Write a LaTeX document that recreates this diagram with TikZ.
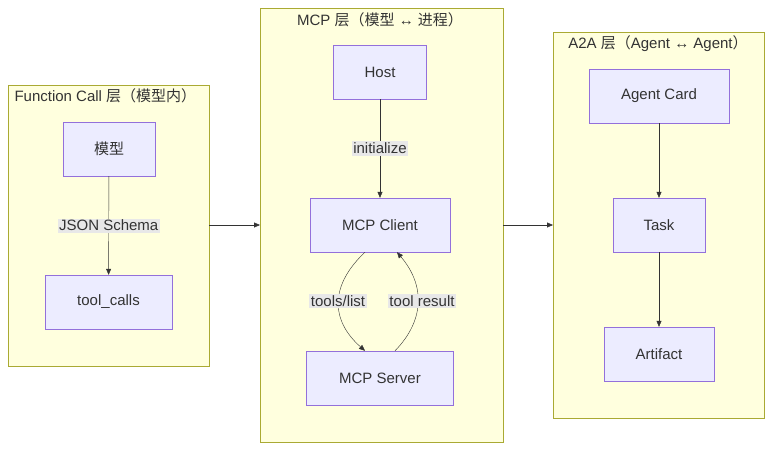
\documentclass[tikz,border=0pt]{standalone}
\usepackage{fontspec}
\setmainfont{Liberation Sans}
\newfontfamily\cjk{Noto Sans CJK SC}
\usetikzlibrary{arrows.meta}
\definecolor{nodefill}{HTML}{ECECFF}
\definecolor{nodeline}{HTML}{9370DB}
\definecolor{groupfill}{HTML}{FFFFDE}
\definecolor{groupline}{HTML}{AAAA33}
\definecolor{labelfill}{HTML}{E8E8E8}
\definecolor{ink}{HTML}{333333}
\tikzset{
  box/.style={draw=nodeline, fill=nodefill, text=ink, inner sep=0pt},
  group/.style={draw=groupline, fill=groupfill},
  edgelabel/.style={fill=labelfill, text=ink, inner sep=1.5pt},
  link/.style={draw=ink, -{Triangle[length=6pt,width=5pt]}},
}
\begin{document}
\begin{tikzpicture}[x=1pt,y=-1pt,font=\fontsize{15}{18}\selectfont]
  \useasboundingbox (0,0) rectangle (773,451);
  % groups
  \draw[group] (8,85) rectangle (209,366);
  \draw[group] (260,8) rectangle (503,442);
  \draw[group] (553,32) rectangle (764,418);
  \node[text=ink, anchor=west] (fctitle) at (11,96) {Function Call {\cjk 层（模型内）}};
  \node[text=ink] (mcptitle) at (380,20) {MCP {\cjk 层（模型} ↔ {\cjk 进程）}};
  \node[text=ink] (a2atitle) at (658,44) {A2A {\cjk 层（}Agent ↔ Agent{\cjk ）}};
  \coordinate (fcout) at (209,225);
  \coordinate (mcpin) at (260,225);
  \coordinate (mcpout) at (503,225);
  \coordinate (a2ain) at (553,225);
  % nodes
  \node[box, minimum width=92pt, minimum height=54pt] (model) at (109,149) {\cjk 模型};
  \node[box, minimum width=127pt, minimum height=54pt] (calls) at (108.5,302) {tool\_calls};
  \node[box, minimum width=93pt, minimum height=54pt] (host) at (380,72) {Host};
  \node[box, minimum width=140pt, minimum height=54pt] (client) at (380,225) {MCP Client};
  \node[box, minimum width=147pt, minimum height=54pt] (server) at (380,378) {MCP Server};
  \node[box, minimum width=140pt, minimum height=54pt] (card) at (659,96) {Agent Card};
  \node[box, minimum width=92pt, minimum height=54pt] (task) at (659,225) {Task};
  \node[box, minimum width=110pt, minimum height=54pt] (artifact) at (659,354) {Artifact};
  % connectors
  \draw[link] (model) -- node[edgelabel] {JSON Schema} (calls);
  \draw[link] (host) -- node[edgelabel] {initialize} (client);
  \draw[link] (client.south) ++(-15,0) coordinate (c1)
    .. controls (330,285) and (330,320) .. (server.north -| 365,0);
  \node[edgelabel] (listlabel) at (338,301) {tools/list};
  \draw[link] (server.north -| 395,0) .. controls (425,320) and (425,285) .. (client.south -| 397,0);
  \node[edgelabel] (resultlabel) at (422,301) {tool result};
  \draw[link] (card) -- (task);
  \draw[link] (task) -- (artifact);
  \draw[link] (fcout) -- (mcpin);
  \draw[link] (mcpout) -- (a2ain);
\end{tikzpicture}
\end{document}
